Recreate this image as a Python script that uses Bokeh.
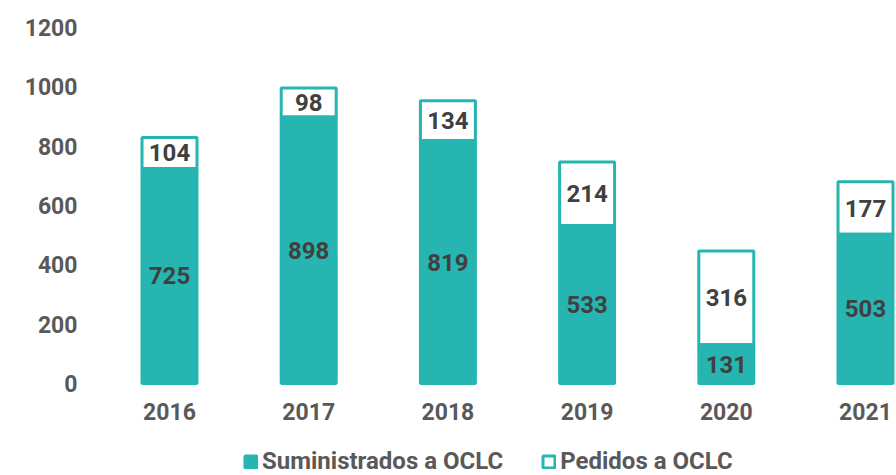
from bokeh.plotting import figure
from bokeh.models import Range1d, FixedTicker, ColumnDataSource, Legend, LegendItem
from bokeh.core.properties import value
from bokeh.embed import file_html
from bokeh.resources import INLINE

years = ["2016", "2017", "2018", "2019", "2020", "2021"]
suministrados = [725, 898, 819, 533, 131, 503]
pedidos = [104, 98, 134, 214, 316, 177]
y_ticks = [0, 200, 400, 600, 800, 1000, 1200]

TEAL = "#26b5b0"
LABEL = "#404040"
AXIS = "#595959"

xs = list(range(len(years)))
tops = [s + q for s, q in zip(suministrados, pedidos)]
src = ColumnDataSource(dict(
    x=xs,
    sum=suministrados,
    top=tops,
    sum_mid=[s / 2 for s in suministrados],
    ped_mid=[s + q / 2 for s, q in zip(suministrados, pedidos)],
    sum_lbl=[str(s) for s in suministrados],
    ped_lbl=[str(q) for q in pedidos],
))

p = figure(width=896, height=475, output_backend="svg", toolbar_location=None,
           x_range=Range1d(-0.4957, 5.2227), y_range=Range1d(-310.1, 1223.6),
           min_border_left=100, min_border_right=0, min_border_top=20, min_border_bottom=0)

r_ped = p.vbar(x="x", bottom="sum", top="top", width=0.395, source=src,
               fill_color="white", line_color=TEAL, line_width=3)
r_sum = p.vbar(x="x", bottom=0, top="sum", width=0.395, source=src,
               fill_color=TEAL, line_color=TEAL, line_width=3)

p.text(x="x", y="sum_mid", text="sum_lbl", source=src, text_align="center",
       text_baseline="middle", text_font=value("Roboto"), text_font_style="bold",
       text_font_size="24px", text_color=LABEL)
p.text(x="x", y="ped_mid", text="ped_lbl", source=src, text_align="center",
       text_baseline="middle", text_font=value("Roboto"), text_font_style="bold",
       text_font_size="24px", text_color=LABEL)

p.xaxis.ticker = FixedTicker(ticks=xs)
p.xaxis.major_label_overrides = {i: y for i, y in zip(xs, years)}
p.xaxis.fixed_location = 0
p.yaxis.ticker = FixedTicker(ticks=y_ticks)
for ax in (p.xaxis, p.yaxis):
    ax.axis_line_color = None
    ax.major_tick_line_color = None
    ax.minor_tick_line_color = None
    ax.major_tick_out = 0
    ax.major_tick_in = 0
    ax.major_label_text_font = "Roboto"
    ax.major_label_text_font_style = "bold"
    ax.major_label_text_font_size = "23px"
    ax.major_label_text_color = AXIS
p.yaxis.major_label_standoff = 23
p.xaxis.major_label_standoff = 19
p.grid.visible = False
p.outline_line_color = None

legend = Legend(items=[LegendItem(label="Suministrados a OCLC", renderers=[r_sum]),
                       LegendItem(label="Pedidos a OCLC", renderers=[r_ped])],
                orientation="horizontal", location=(143, 0),
                border_line_color=None, background_fill_alpha=0,
                label_text_font="Roboto", label_text_font_style="bold",
                label_text_font_size="24px", label_text_color=AXIS,
                glyph_width=15, glyph_height=15, spacing=38, label_standoff=4,
                padding=0, margin=0)
p.add_layout(legend, "center")

open("out.html", "w").write(file_html(p, INLINE))
